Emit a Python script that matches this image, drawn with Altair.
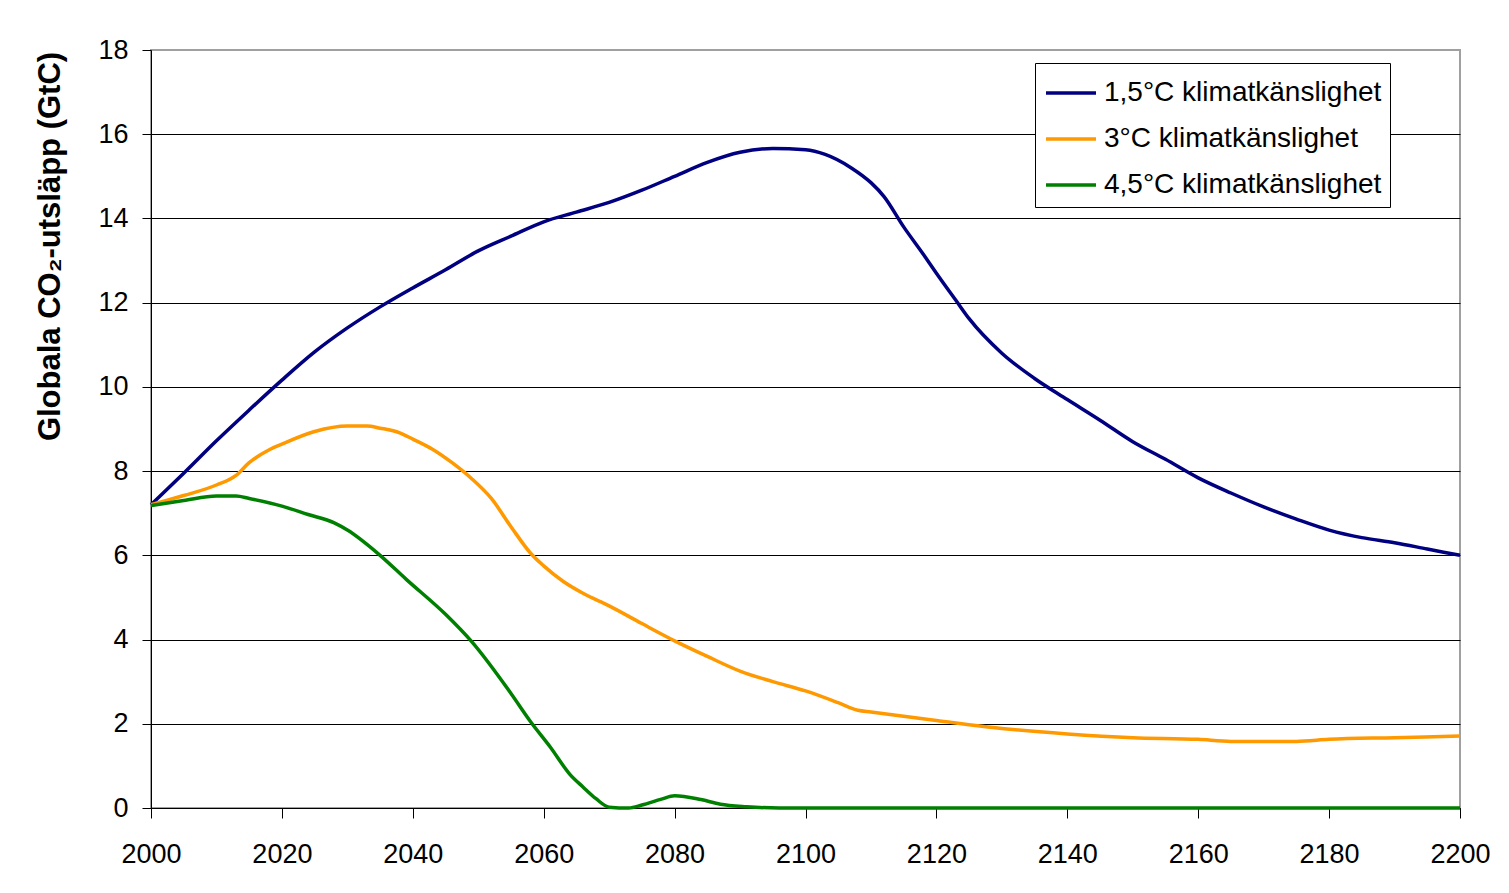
import altair as alt
import pandas as pd

# --- data ---
years_15 = [2000, 2005, 2010, 2015, 2020, 2025, 2030, 2035, 2040, 2045, 2050, 2055, 2060, 2065,
            2070, 2075, 2080, 2085, 2090, 2095, 2100, 2103, 2107, 2110, 2112, 2115, 2118, 2120,
            2123, 2125, 2130, 2135, 2140, 2145, 2150, 2155, 2160, 2165, 2170, 2175, 2180, 2185,
            2190, 2195, 2200]
vals_15 = [7.2, 7.95, 8.72, 9.45, 10.16, 10.83, 11.4, 11.9, 12.35, 12.78, 13.23, 13.58, 13.92, 14.15,
           14.38, 14.67, 15.0, 15.33, 15.57, 15.66, 15.63, 15.52, 15.2, 14.85, 14.52, 13.8, 13.15, 12.7,
           12.05, 11.62, 10.8, 10.2, 9.7, 9.21, 8.7, 8.28, 7.84, 7.48, 7.15, 6.86, 6.6, 6.42,
           6.3, 6.15, 6.0]

years_30 = [2000, 2005, 2010, 2013, 2015, 2018, 2020, 2025, 2030, 2033, 2035, 2038, 2040, 2043,
            2046, 2049, 2052, 2055, 2058, 2060, 2063, 2066, 2070, 2075, 2080, 2085, 2090, 2095,
            2100, 2105, 2108, 2110, 2120, 2130, 2140, 2150, 2160, 2165, 2175, 2180, 2190, 2200]
vals_30 = [7.2, 7.42, 7.67, 7.9, 8.2, 8.5, 8.64, 8.94, 9.07, 9.07, 9.02, 8.91, 8.76, 8.52,
           8.2, 7.82, 7.35, 6.68, 6.05, 5.75, 5.38, 5.1, 4.8, 4.38, 3.97, 3.6, 3.25, 3.0,
           2.78, 2.5, 2.32, 2.28, 2.08, 1.89, 1.76, 1.67, 1.63, 1.58, 1.58, 1.63, 1.67, 1.71]

years_45 = [2000, 2005, 2010, 2013, 2015, 2020, 2024, 2028, 2030, 2035, 2039, 2045, 2049, 2055,
            2058, 2061, 2064, 2066, 2068, 2070, 2073, 2075, 2078, 2080, 2084, 2087, 2091, 2096,
            2100, 2150, 2200]
vals_45 = [7.18, 7.3, 7.41, 7.41, 7.35, 7.17, 6.97, 6.77, 6.6, 6.0, 5.43, 4.6, 3.95, 2.72,
           2.05, 1.45, 0.8, 0.5, 0.22, 0.02, 0.0, 0.07, 0.21, 0.29, 0.2, 0.09, 0.03, 0.0,
           0.0, 0.0, 0.0]

series_names = ["1,5°C klimatkänslighet", "3°C klimatkänslighet", "4,5°C klimatkänslighet"]
series_colors = ["#000080", "#FF9900", "#008000"]
x_ticks = [2000, 2020, 2040, 2060, 2080, 2100, 2120, 2140, 2160, 2180, 2200]
y_ticks = [0, 2, 4, 6, 8, 10, 12, 14, 16, 18]

frames = []
for name, ys, vs in zip(series_names, [years_15, years_30, years_45], [vals_15, vals_30, vals_45]):
    frames.append(pd.DataFrame({"year": ys, "value": vs, "series": name}))
df = pd.concat(frames, ignore_index=True)

FONT = "Liberation Sans"

chart = alt.Chart(df).mark_line(strokeWidth=3.5, interpolate="monotone").encode(
    x=alt.X("year:Q",
            scale=alt.Scale(domain=[2000, 2200], nice=False, zero=False),
            axis=alt.Axis(values=x_ticks, format="d", title=None, grid=False,
                          labelFont=FONT, labelFontSize=27, labelColor="black",
                          labelPadding=23, tickSize=10, tickColor="black",
                          domainColor="black", labelFlush=False)),
    y=alt.Y("value:Q",
            scale=alt.Scale(domain=[0, 18], nice=False),
            axis=alt.Axis(values=y_ticks, title="Globala CO₂-utsläpp (GtC)",
                          titleFont=FONT, titleFontSize=31, titleFontWeight="bold",
                          titleColor="black", titleAngle=-90, titleAlign="center",
                          titleBaseline="middle", titleX=-101, titleY=196,
                          labelFont=FONT, labelFontSize=27, labelColor="black",
                          labelPadding=14, tickSize=9, tickColor="black",
                          domainColor="black", grid=True,
                          gridColor=alt.condition("datum.value == 18", alt.value("#a0a0a0"), alt.value("black")),
                          gridWidth=1.2)),
    color=alt.Color("series:N",
                    scale=alt.Scale(domain=series_names, range=series_colors),
                    sort=series_names,
                    legend=alt.Legend(title=None, orient="none", legendX=884, legendY=13,
                                      labelFont=FONT, labelFontSize=28, labelColor="black",
                                      labelOffset=17, symbolType="M-0.95,0H1.55", symbolSize=1600,
                                      symbolStrokeWidth=3.5, rowPadding=10, padding=8,
                                      strokeColor="black", fillColor="white",
                                      labelLimit=500)),
).properties(
    width=1309,
    height=758,
    background="white",
    padding={"left": 143, "top": 42, "right": 30, "bottom": 70},
    autosize=alt.AutoSizeParams(type="none"),
).configure_view(
    stroke="#a0a0a0",
    strokeWidth=2,
)

chart.save("out.html", embed_options={"renderer": "svg", "actions": False})
